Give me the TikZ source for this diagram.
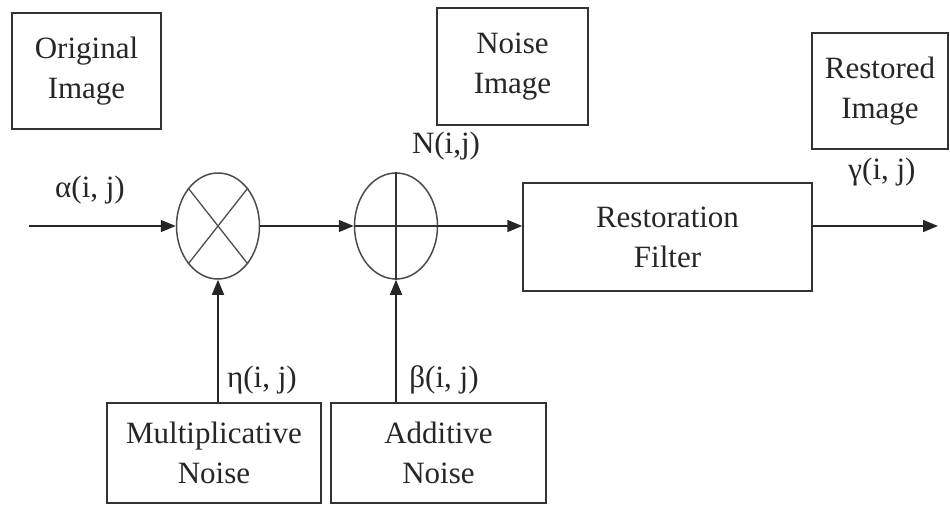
\documentclass[tikz,border=0pt]{standalone}
\usepackage{fontspec}
\setmainfont{Liberation Serif}
\usepackage{tikz}
\usetikzlibrary{shapes.geometric,arrows.meta}

\begin{document}
\begin{tikzpicture}[x=1pt, y=-1pt,
    box/.style={draw=black!80, line width=1.5pt, align=center,
                font=\fontsize{31}{40}\selectfont, text=black!85, inner sep=0pt},
    op/.style={draw=black!70, line width=1.5pt, ellipse,
               minimum width=83pt, minimum height=106pt, inner sep=0pt},
    lbl/.style={font=\fontsize{31}{36}\selectfont, text=black!85},
    arrow/.style={-{Triangle[length=15pt,width=12pt]}, line width=1.5pt, draw=black!85}
  ]
    \useasboundingbox (0,0) rectangle (950,506);

    % image boxes on top
    \node[box, minimum width=149pt, minimum height=116pt] (orig) at (86.5,71) {Original\\Image};
    \node[box, minimum width=151pt, minimum height=117pt] (noisy) at (512.5,66.5) {Noise\\Image};
    \node[box, minimum width=136pt, minimum height=116pt] (rest) at (880,91) {Restored\\Image};

    % signal path
    \node[op] (mul) at (218,226) {};
    \node[op] (add) at (396,226) {};
    \node[box, minimum width=289pt, minimum height=108pt] (filt) at (667.5,237) {Restoration\\Filter};
    \coordinate (in) at (29,226);
    \coordinate (out) at (938,226);

    \draw[black!70, line width=1.3pt] (mul.north west) -- (mul.south east);
    \draw[black!70, line width=1.3pt] (mul.north east) -- (mul.south west);
    \draw[black!80, line width=1.3pt] (add.north) -- (add.south);
    \draw[black!80, line width=1.3pt] (add.west) -- (add.east);

    % noise sources
    \node[box, minimum width=214pt, minimum height=100pt] (mnoise) at (214,453) {Multiplicative\\Noise};
    \node[box, minimum width=215pt, minimum height=100pt] (anoise) at (438.5,453) {Additive\\Noise};

    \draw[arrow] (in) -- (mul.west);
    \draw[arrow] (mul.east) -- (add.west);
    \draw[arrow] (add.east) -- (add.east -| filt.west);
    \draw[arrow] (out -| filt.east) -- (out);
    \draw[arrow] (mul.south |- mnoise.north) -- (mul.south);
    \draw[arrow] (add.south |- anoise.north) -- (add.south);

    % signal labels
    \node[lbl] (alpha) at (90,190) {α(i, j)};
    \node[lbl] (nij) at (446,146) {N(i,j)};
    \node[lbl] (gamma) at (882,172) {γ(i, j)};
    \node[lbl] (eta) at (262,380) {η(i, j)};
    \node[lbl] (beta) at (444,380) {β(i, j)};
  \end{tikzpicture}
\end{document}
